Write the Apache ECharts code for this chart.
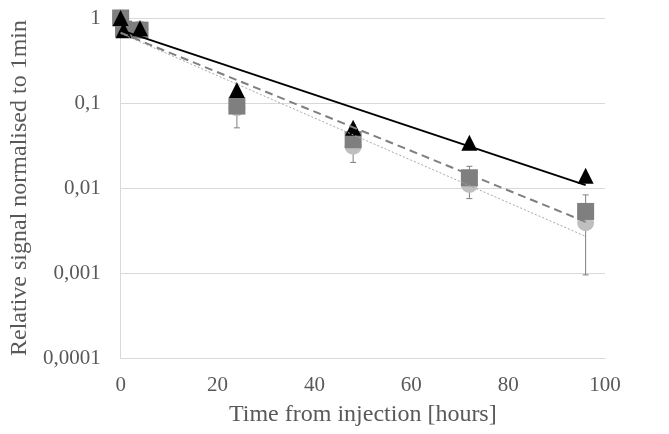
<!DOCTYPE html>
<html>
<head>
<meta charset="utf-8">
<script src="https://cdn.jsdelivr.net/npm/echarts@6/dist/echarts.min.js"></script>
<style>
  html, body { margin: 0; padding: 0; background: #fff; }
  #chart { width: 669px; height: 434px; }
</style>
</head>
<body>
<div id="chart"></div>
<script>
// time points [hours]
const times = [0, 0.6, 4, 24, 48, 72, 96];
// relative signal for the three groups
const triangles = [1, 0.72, 0.76, 0.142, 0.051, 0.034, 0.0139];
const squares = [1, 0.74, 0.72, 0.092, 0.037, 0.0132, 0.0053];
const circles = [1, 0.76, 0.74, 0.088, 0.031, 0.011, 0.0039];
// error bar ranges (low, high)
const squareLow = [null, null, null, 0.051, 0.02, 0.0075, 0.00095];
const squareHigh = [null, null, null, 0.13, 0.055, 0.018, 0.0083];
// exponential trend lines (start, end)
const trendT = [0, 96];
const trendBlack = [0.72, 0.0108];
const trendDash = [0.67, 0.0040];
const trendDot = [0.66, 0.0027];
const yTickLabels = ['0,0001', '0,001', '0,01', '0,1', '1'];

const chart = echarts.init(document.getElementById('chart'));

const pairs = (xs, ys) => xs.map((x, i) => [x, ys[i]]);
const errData = times.map((t, i) => [t, squareLow[i], squareHigh[i]]).filter(d => d[1] != null);

chart.setOption({
  animation: false,
  textStyle: { fontFamily: 'Liberation Serif' },
  grid: { left: 119, right: 64, top: 18, bottom: 76 },
  xAxis: {
    type: 'value', min: 0, max: 100, interval: 20,
    name: 'Time from injection [hours]', nameLocation: 'middle', nameGap: 45,
    nameTextStyle: { fontSize: 24, color: '#595959', fontFamily: 'Liberation Serif' },
    axisLine: { lineStyle: { color: '#d9d9d9' } },
    axisTick: { show: false },
    splitLine: { show: false },
    axisLabel: { fontSize: 21, color: '#595959', margin: 17 }
  },
  yAxis: {
    type: 'log', logBase: 10, min: 0.0001, max: 1,
    name: 'Relative signal normalised to 1min', nameLocation: 'middle', nameGap: 82,
    nameTextStyle: { fontSize: 24, color: '#595959', fontFamily: 'Liberation Serif' },
    axisLine: { show: true, lineStyle: { color: '#d9d9d9' } },
    axisTick: { show: false },
    splitLine: { lineStyle: { color: '#d9d9d9' } },
    axisLabel: {
      fontSize: 21, color: '#595959', margin: 20,
      formatter: v => yTickLabels[Math.round(Math.log10(v)) + 4]
    }
  },
  series: [
    {
      type: 'custom', z: 1,
      data: errData,
      renderItem: (params, api) => {
        const x = api.value(0);
        const lo = api.coord([x, api.value(1)]);
        const hi = api.coord([x, api.value(2)]);
        const c = 3;
        const st = { stroke: '#7f7f7f', lineWidth: 1 };
        return {
          type: 'group',
          children: [
            { type: 'line', shape: { x1: lo[0], y1: lo[1], x2: hi[0], y2: hi[1] }, style: st },
            { type: 'line', shape: { x1: lo[0] - c, y1: lo[1], x2: lo[0] + c, y2: lo[1] }, style: st },
            { type: 'line', shape: { x1: hi[0] - c, y1: hi[1], x2: hi[0] + c, y2: hi[1] }, style: st }
          ]
        };
      }
    },
    {
      type: 'scatter', z: 2, symbol: 'circle', symbolSize: 17,
      itemStyle: { color: '#bfbfbf', opacity: 1 },
      data: pairs(times, circles)
    },
    {
      type: 'scatter', z: 3, symbol: 'rect', symbolSize: 17,
      itemStyle: { color: '#7f7f7f', opacity: 1 },
      data: pairs(times, squares)
    },
    {
      type: 'scatter', z: 4, symbol: 'triangle', symbolSize: [16, 16],
      itemStyle: { color: '#000', opacity: 1 },
      data: pairs(times, triangles)
    },
    {
      type: 'line', z: 5, symbol: 'none',
      lineStyle: { color: '#a6a6a6', width: 1, type: [2, 2] },
      data: pairs(trendT, trendDot)
    },
    {
      type: 'line', z: 5, symbol: 'none',
      lineStyle: { color: '#7f7f7f', width: 2, type: [8, 5] },
      data: pairs(trendT, trendDash)
    },
    {
      type: 'line', z: 5, symbol: 'none',
      lineStyle: { color: '#000', width: 2 },
      data: pairs(trendT, trendBlack)
    }
  ]
});
</script>
</body>
</html>
